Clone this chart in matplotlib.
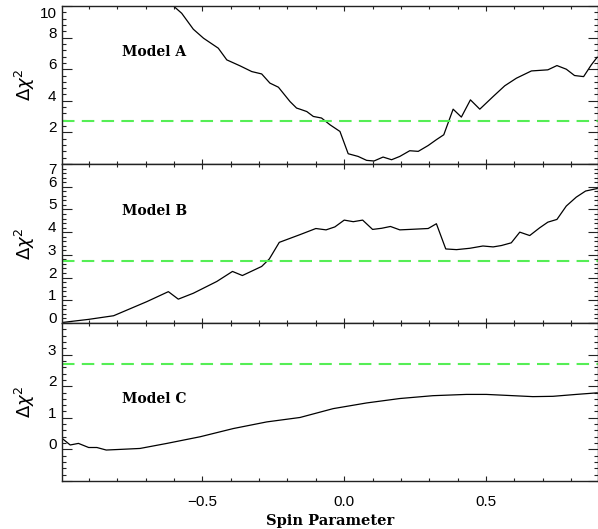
import matplotlib.pyplot as plt
import matplotlib.transforms as mtransforms
from matplotlib.ticker import MultipleLocator

# spin parameter / delta chi^2 values
spin_a = [-0.602, -0.573, -0.532, -0.496, -0.444, -0.414, -0.367, -0.326, -0.291,
          -0.262, -0.232, -0.191, -0.168, -0.156, -0.132, -0.109, -0.080, -0.050,
          -0.015, 0.014, 0.049, 0.079, 0.105, 0.137, 0.167, 0.196, 0.231, 0.261,
          0.296, 0.325, 0.351, 0.384, 0.413, 0.445, 0.478, 0.525, 0.566, 0.607,
          0.660, 0.718, 0.750, 0.783, 0.812, 0.844, 0.871, 0.892]
chi_a = [10.0, 9.54, 8.53, 7.96, 7.33, 6.59, 6.21, 5.85, 5.70,
         5.12, 4.86, 3.95, 3.54, 3.47, 3.32, 3.01, 2.91, 2.48,
         2.06, 0.65, 0.48, 0.23, 0.19, 0.44, 0.27, 0.48, 0.84, 0.80,
         1.17, 1.54, 1.85, 3.47, 2.97, 4.06, 3.47, 4.27, 4.95, 5.43,
         5.89, 5.96, 6.23, 6.00, 5.60, 5.53, 6.27, 6.76]

spin_b = [-0.989, -0.901, -0.813, -0.696, -0.620, -0.585, -0.532, -0.449, -0.394,
          -0.359, -0.291, -0.264, -0.229, -0.156, -0.100, -0.064, -0.033, 0.000,
          0.032, 0.065, 0.100, 0.132, 0.163, 0.196, 0.231, 0.296, 0.325, 0.358,
          0.396, 0.443, 0.489, 0.525, 0.554, 0.589, 0.619, 0.654, 0.689, 0.718,
          0.750, 0.783, 0.818, 0.851, 0.892]
chi_b = [0.03, 0.16, 0.32, 0.94, 1.38, 1.05, 1.31, 1.83, 2.27,
         2.09, 2.49, 2.82, 3.55, 3.89, 4.16, 4.10, 4.23, 4.53,
         4.46, 4.53, 4.12, 4.17, 4.25, 4.10, 4.12, 4.16, 4.37, 3.26,
         3.23, 3.29, 3.39, 3.35, 3.41, 3.53, 4.00, 3.85, 4.19, 4.44,
         4.56, 5.15, 5.54, 5.81, 5.92]

spin_c = [-0.995, -0.966, -0.937, -0.901, -0.872, -0.839, -0.790, -0.720, -0.625,
          -0.508, -0.391, -0.273, -0.156, -0.039, 0.079, 0.196, 0.313, 0.431,
          0.501, 0.572, 0.665, 0.736, 0.818, 0.892]
chi_c = [0.35, 0.14, 0.19, 0.06, 0.06, -0.02, 0.00, 0.03, 0.19,
         0.40, 0.66, 0.87, 1.01, 1.29, 1.47, 1.61, 1.70, 1.74,
         1.74, 1.71, 1.67, 1.68, 1.74, 1.79]

models = ['Model A', 'Model B', 'Model C']
threshold = 2.71

plt.rcParams['font.family'] = ['Liberation Sans', 'DejaVu Sans']
plt.rcParams['mathtext.fontset'] = 'dejavusans'

fig = plt.figure(figsize=(5.98, 5.29), dpi=100)
W, H = 598.0, 529.0
left, right = 62 / W, 597.5 / W
edges = [6, 164, 323, 481]  # pixel rows of panel borders

panels = [
    (spin_a, chi_a, (0, 10), 2, 0.4, [2, 4, 6, 8, 10], 0.709, -5),
    (spin_b, chi_b, (0, 7), 1, 0.2, [0, 1, 2, 3, 4, 5, 6, 7], 0.702, -3),
    (spin_c, chi_c, (-1, 4), 1, 0.2, [0, 1, 2, 3], 0.517, -3),
]

axes = []
for i, (xs, ys, ylim, major, minor, labelled, ty, topshift) in enumerate(panels):
    top = 1 - edges[i] / H
    bot = 1 - edges[i + 1] / H
    ax = fig.add_axes([left, bot, right - left, top - bot])
    ax.plot(xs, ys, color='black', lw=0.9)
    ax.axhline(threshold, color='#55ee55', lw=1.5, dashes=(6, 3.5))
    ax.set_xlim(-0.995, 0.893)
    ax.set_ylim(*ylim)

    ax.xaxis.set_major_locator(MultipleLocator(0.5))
    ax.xaxis.set_minor_locator(MultipleLocator(0.1))
    ax.yaxis.set_major_locator(MultipleLocator(major))
    ax.yaxis.set_minor_locator(MultipleLocator(minor))
    ax.yaxis.set_major_formatter(
        plt.FuncFormatter(lambda v, p, lab=labelled: f'{v:g}' if round(v, 3) in lab else ''))

    ax.tick_params(axis='both', which='both', direction='in', top=True, right=True,
                   colors='#222222', labelsize=11, labelcolor='black')
    ax.tick_params(axis='y', which='major', length=7.2, width=0.8, pad=4)
    ax.tick_params(axis='y', which='minor', length=3.2, width=0.8)
    ax.tick_params(axis='x', which='major', length=3.6, width=0.8, pad=10)
    ax.tick_params(axis='x', which='minor', length=2.2, width=0.8)
    if i < 2:
        ax.tick_params(axis='x', labelbottom=False)

    # tick labels sit a little above their ticks, the top one is pushed inside
    fig.canvas.draw()
    up = mtransforms.ScaledTranslation(0, 4 / 72, fig.dpi_scale_trans)
    down = mtransforms.ScaledTranslation(0, topshift / 72, fig.dpi_scale_trans)
    for tick in ax.yaxis.get_major_ticks():
        v = tick.get_loc()
        shift = down if abs(v - ylim[1]) < 1e-6 else up
        tick.label1.set_transform(tick.label1.get_transform() + shift)

    for s in ax.spines.values():
        s.set_color('#222222')
        s.set_linewidth(1.0)

    ax.text(0.112, ty, models[i], transform=ax.transAxes, ha='left', va='center',
            family='DejaVu Serif', fontweight='bold', fontsize=10)
    ax.set_ylabel(r'$\Delta\chi^2$', fontsize=13)
    ax.yaxis.set_label_coords(-0.046, 0.5)
    axes.append(ax)

axes[-1].set_xlabel('Spin Parameter', family='DejaVu Serif', fontweight='bold',
                    fontsize=10.5, labelpad=4)

fig.savefig('out.png', dpi=100)
